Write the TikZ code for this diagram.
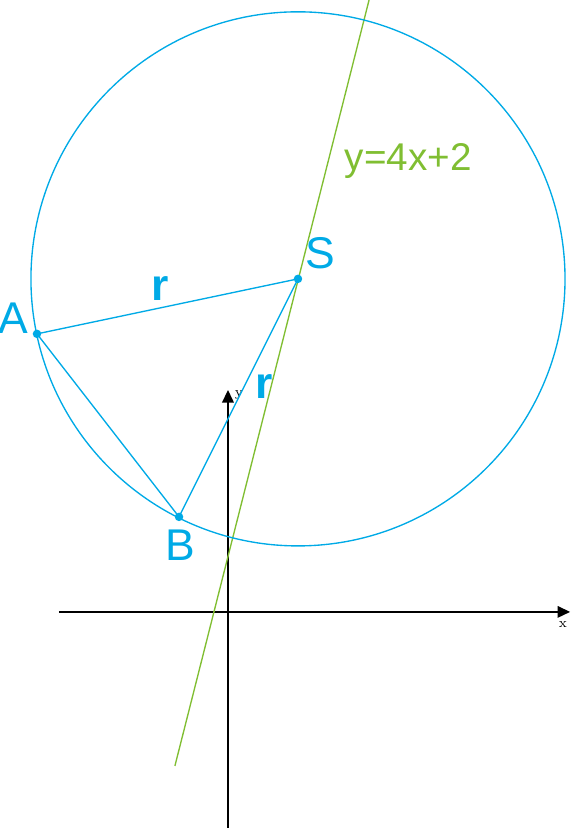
\documentclass[tikz,border=0pt]{standalone}
\usepackage{fontspec}
\usepackage{tikz}
\usepackage{xcolor}
\usetikzlibrary{
    arrows,
    arrows.meta,
    calc,
    positioning
}
\newfontfamily\handfont{Liberation Sans}
\definecolor{pencyan}{RGB}{0,170,230}
\definecolor{pengreen}{RGB}{128,190,50}
\tikzset{
    axis/.style={draw=black, line width=0.8pt, -{Triangle[length=6.5pt, width=6pt]}},
    penline/.style={draw=pencyan, line width=0.7pt},
    pt/.style={circle, fill=pencyan, inner sep=0pt, minimum size=4.4pt},
    penlabel/.style={text=pencyan, font=\handfont\fontsize{23}{26}\selectfont, inner sep=0pt},
    axlabel/.style={font=\scriptsize, inner sep=0pt}
}

\begin{document}
\begin{tikzpicture}[x=0.5cm, y=0.5cm]
                                \useasboundingbox (-8.29, -7.93) rectangle (12.47, 22.25);
                                % axes
                                \coordinate (xs) at (-6.15, 0);
                                \coordinate (xe) at (12.44, 0);
                                \coordinate (ys) at (0, -7.85);
                                \coordinate (ye) at (0, 8.07);
                                \draw[axis] (xs) -- (xe);
                                \draw[axis] (ys) -- (ye);
                                \node[axlabel] (xl) at (12.18, -0.47) {x};
                                \node[axlabel] (yl) at (0.4, 7.89) {y};
                                % line y=4x+2
                                \coordinate (l1) at (-1.93, -5.6);
                                \coordinate (l2) at (5.13, 22.25);
                                \draw[pengreen, line width=0.7pt] (l1) -- (l2);
                                \node[text=pengreen, font=\handfont\fontsize{20}{24}\selectfont] (eq) at (6.55, 16.4) {y=4x+2};
                                % circle and points
                                \coordinate (S) at (2.545, 12.11);
                                \draw[penline] (S) circle (9.71);
                                \coordinate (A) at (-6.945, 10.11);
                                \coordinate (B) at (-1.78, 3.455);
                                \draw[penline] (A) -- (S) -- (B) -- cycle;
                                \node[pt] (Sp) at (S) {};
                                \node[pt] (Ap) at (A) {};
                                \node[pt] (Bp) at (B) {};
                                \node[penlabel] (Sl) at (3.35, 13.05) {S};
                                \node[penlabel] (Al) at (-7.82, 10.69) {A};
                                \node[penlabel] (Bl) at (-1.75, 2.44) {B};
                                \node[penlabel] (r1) at (-2.47, 11.75) {\textbf{r}};
                                \node[penlabel] (r2) at (1.31, 8.2) {\textbf{r}};
\end{tikzpicture}
\end{document}
